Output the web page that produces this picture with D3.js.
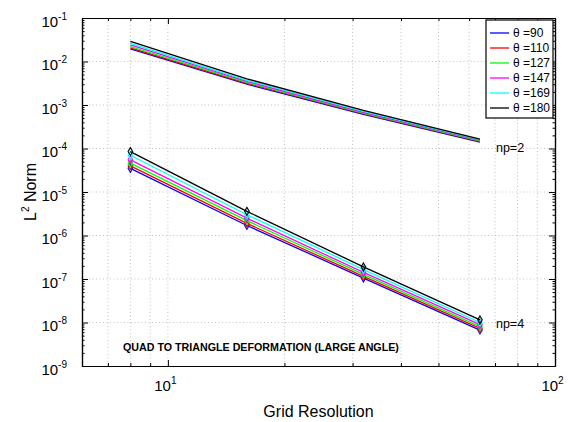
<!DOCTYPE html>
<html><head><meta charset="utf-8">
<script src="https://cdn.jsdelivr.net/npm/d3@7"></script>
<style>body{margin:0;background:#fff;} text{font-family:"Liberation Sans",Arial,sans-serif;}</style>
</head><body><svg id="c" width="568" height="422"></svg>
<script>
const gridRes = [8, 16, 32, 64];
const angles = ["90", "110", "127", "147", "169", "180"];
const colors = ["#0000ff", "#ff0000", "#00ff00", "#ff00ff", "#00ffff", "#000000"];
// np=2 errors per angle (at grid 8,16,32,64)
const np2_90  = [1.95e-2, 3.0e-3, 6.1e-4, 1.40e-4];
const np2_110 = [2.05e-2, 3.15e-3, 6.3e-4, 1.45e-4];
const np2_127 = [2.2e-2, 3.3e-3, 6.5e-4, 1.50e-4];
const np2_147 = [2.4e-2, 3.5e-3, 6.8e-4, 1.55e-4];
const np2_169 = [2.6e-2, 3.7e-3, 7.1e-4, 1.60e-4];
const np2_180 = [2.9e-2, 4.0e-3, 7.5e-4, 1.65e-4];
// np=4
const np4_90  = [3.5e-5, 1.7e-6, 1.05e-7, 6.7e-9];
const np4_110 = [4.0e-5, 1.9e-6, 1.15e-7, 7.3e-9];
const np4_127 = [4.6e-5, 2.2e-6, 1.28e-7, 8.0e-9];
const np4_147 = [5.5e-5, 2.5e-6, 1.42e-7, 8.9e-9];
const np4_169 = [7.0e-5, 3.0e-6, 1.65e-7, 1.0e-8];
const np4_180 = [8.5e-5, 3.6e-6, 1.9e-7, 1.15e-8];
const np2 = [np2_90, np2_110, np2_127, np2_147, np2_169, np2_180];
const np4 = [np4_90, np4_110, np4_127, np4_147, np4_169, np4_180];
const xMajor = [10, 100];
const xMinor = [7, 8, 9, 20, 30, 40, 50, 60, 70, 80, 90];
const yMajor = [1e-9, 1e-8, 1e-7, 1e-6, 1e-5, 1e-4, 1e-3, 1e-2, 1e-1];

const L = 82, R = 555, T = 18, B = 366;
const svg = d3.select("#c");
const x = d3.scaleLog().domain([6, 100]).range([L, R]);
const y = d3.scaleLog().domain([1e-9, 1e-1]).range([B, T]);

// minor y ticks
const yMinor = [];
for (let e = -9; e < -1; e++) for (let m = 2; m <= 9; m++) yMinor.push(m * Math.pow(10, e));

// grid
const grid = svg.append("g").attr("stroke", "#b4b4b4").attr("stroke-width", 0.8).attr("stroke-dasharray", "1,2.5");
grid.selectAll("line.vx").data(xMajor.concat(xMinor).filter(v => v < 100)).join("line")
  .attr("x1", d => x(d)).attr("x2", d => x(d)).attr("y1", T).attr("y2", B);
grid.selectAll("line.hy").data(yMajor.slice(1, -1)).join("line")
  .attr("y1", d => y(d)).attr("y2", d => y(d)).attr("x1", L).attr("x2", R);

// axes with inward ticks
function ax(gen, tr) { return svg.append("g").attr("transform", tr).call(gen); }
const fmtNone = () => "";
const style = g => { g.select(".domain").attr("stroke", "#000").attr("stroke-width", 1.2); g.selectAll(".tick line").attr("stroke", "#000"); };
// minor
ax(d3.axisBottom(x).tickValues(xMinor).tickSizeInner(-3).tickSizeOuter(0).tickFormat(fmtNone), `translate(0,${B})`).call(style);
ax(d3.axisTop(x).tickValues(xMinor).tickSizeInner(-3).tickSizeOuter(0).tickFormat(fmtNone), `translate(0,${T})`).call(style);
ax(d3.axisLeft(y).tickValues(yMinor).tickSizeInner(-2.5).tickSizeOuter(0).tickFormat(fmtNone), `translate(${L},0)`).call(style);
ax(d3.axisRight(y).tickValues(yMinor).tickSizeInner(-2.5).tickSizeOuter(0).tickFormat(fmtNone), `translate(${R},0)`).call(style);
// major
const xb = ax(d3.axisBottom(x).tickValues(xMajor).tickSizeInner(-6).tickSizeOuter(0).tickPadding(14), `translate(0,${B})`).call(style);
ax(d3.axisTop(x).tickValues(xMajor).tickSizeInner(-6).tickSizeOuter(0).tickFormat(fmtNone), `translate(0,${T})`).call(style);
const yl = ax(d3.axisLeft(y).tickValues(yMajor).tickSizeInner(-6).tickSizeOuter(0).tickPadding(15), `translate(${L},0)`).call(style);
ax(d3.axisRight(y).tickValues(yMajor).tickSizeInner(-6).tickSizeOuter(0).tickFormat(fmtNone), `translate(${R},0)`).call(style);

function supLabel(sel) {
  sel.selectAll(".tick text").each(function(d) {
    const e = Math.round(Math.log10(d));
    const t = d3.select(this).text("").attr("font-size", 15).attr("fill", "#000")
      .attr("font-family", "Liberation Sans, Arial, sans-serif");
    t.append("tspan").text("10");
    t.append("tspan").attr("dy", -7).attr("font-size", 10).text(e);
  });
}
supLabel(xb); supLabel(yl);
xb.selectAll(".tick text").attr("text-anchor", "middle").attr("dx", -3);
yl.selectAll(".tick text").attr("dy", "0.55em");

// lines
const line = d3.line().x((d, i) => x(gridRes[i])).y(d => y(d));
const plot = svg.append("g");
np2.forEach((s, k) => plot.append("path").datum(s).attr("d", line).attr("fill", "none").attr("stroke", colors[k]).attr("stroke-width", 1.3));
np4.forEach((s, k) => {
  plot.append("path").datum(s).attr("d", line).attr("fill", "none").attr("stroke", colors[k]).attr("stroke-width", 1.3);
  plot.selectAll(null).data(s).join("path")
    .attr("transform", (d, i) => `translate(${x(gridRes[i])},${y(d)})`)
    .attr("d", d3.symbol(d3.symbolDiamond, 18))
    .attr("fill", "none").attr("stroke", colors[k]).attr("stroke-width", 1.1);
});

// annotations
svg.append("text").attr("x", x(64) + 16).attr("y", y(np2_180[3]) + 13).attr("font-size", 12.5).text("np=2");
svg.append("text").attr("x", x(64) + 16).attr("y", y(np4_180[3]) + 8).attr("font-size", 12.5).text("np=4");
svg.append("text").attr("x", 123).attr("y", 351).attr("font-size", 10.7).attr("font-weight", "bold").text("QUAD TO TRIANGLE DEFORMATION (LARGE ANGLE)");

// axis titles
svg.append("text").attr("x", (L + R) / 2).attr("y", 417).attr("text-anchor", "middle").attr("font-size", 16).text("Grid Resolution");
const yt = svg.append("text").attr("transform", `translate(36,${(T + B) / 2}) rotate(-90)`).attr("text-anchor", "middle").attr("font-size", 16);
yt.append("tspan").text("L");
yt.append("tspan").attr("dy", -7).attr("font-size", 10).text("2");
yt.append("tspan").attr("dy", 7).text(" Norm");

// legend
const lg = svg.append("g");
lg.append("rect").attr("x", 486).attr("y", 20).attr("width", 67).attr("height", 98).attr("fill", "#fff").attr("stroke", "#000").attr("stroke-width", 1.2);
angles.forEach((a, i) => {
  const yy = 33 + i * 15;
  lg.append("line").attr("x1", 490).attr("x2", 509).attr("y1", yy).attr("y2", yy).attr("stroke", colors[i]).attr("stroke-width", 1.3);
  lg.append("text").attr("x", 513).attr("y", yy + 4).attr("font-size", 12).text("θ =" + a);
});
</script></body></html>
